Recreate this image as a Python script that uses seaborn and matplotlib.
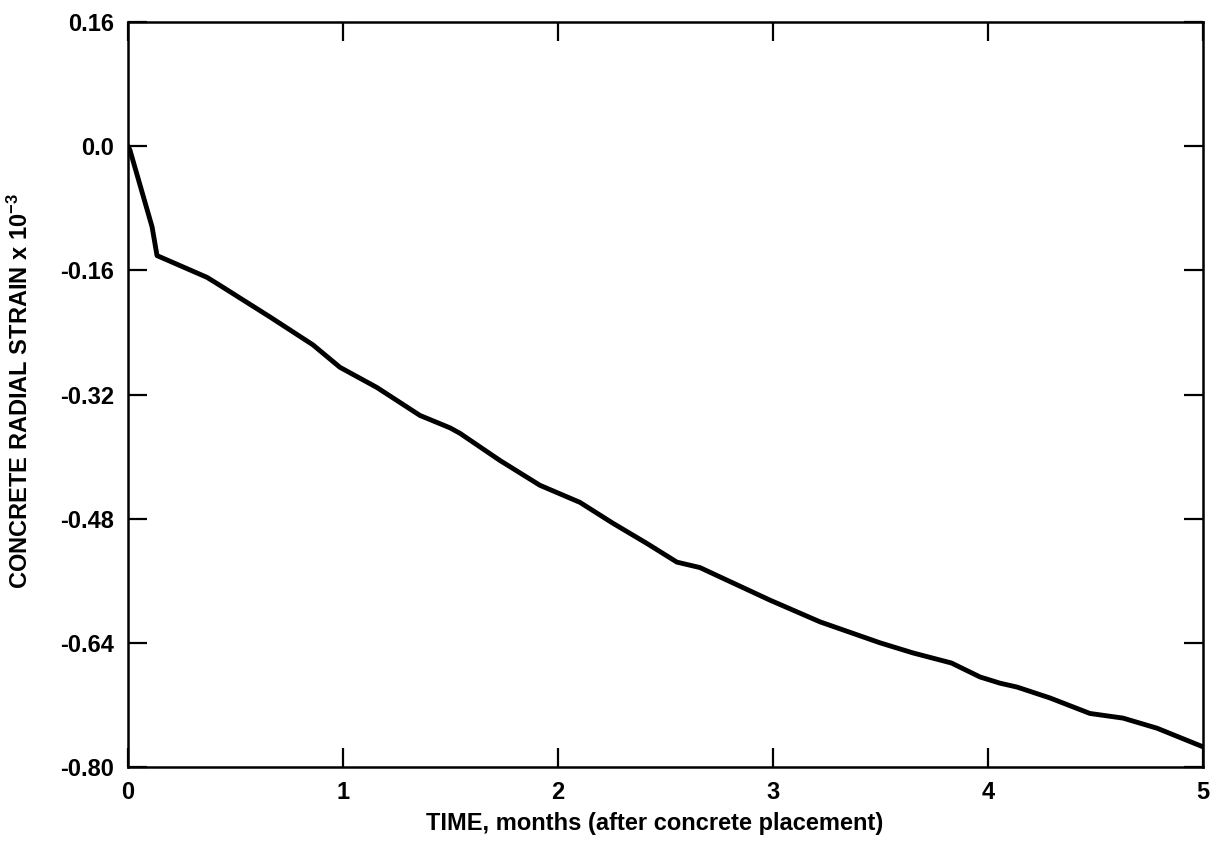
import numpy as np
import pandas as pd
import matplotlib
matplotlib.use('Agg')
import matplotlib.pyplot as plt
import seaborn as sns

# values
time_months = [0.0, 0.009, 0.112, 0.135, 0.367, 0.414, 0.660, 0.860, 0.986,
               1.158, 1.358, 1.498, 1.544, 1.730, 1.916, 2.102, 2.256, 2.414,
               2.553, 2.660, 2.753, 2.986, 3.219, 3.498, 3.651, 3.830, 3.963,
               4.056, 4.135, 4.288, 4.474, 4.628, 4.786, 5.0]
strain = [0.0, -0.005, -0.104, -0.141, -0.169, -0.177, -0.220, -0.256, -0.285,
          -0.311, -0.347, -0.363, -0.370, -0.405, -0.437, -0.459, -0.486, -0.512,
          -0.536, -0.543, -0.555, -0.585, -0.613, -0.640, -0.653, -0.666, -0.684,
          -0.692, -0.697, -0.711, -0.731, -0.737, -0.750, -0.774]

y_ticks = [0.16, 0.0, -0.16, -0.32, -0.48, -0.64, -0.80]
y_labels = ['0.16', '0.0', '-0.16', '-0.32', '-0.48', '-0.64', '-0.80']
x_ticks = [0, 1, 2, 3, 4, 5]

df = pd.DataFrame({'t': time_months, 'strain': strain})

sns.set_theme(style='white')
plt.rcParams['font.family'] = ['Liberation Sans', 'DejaVu Sans']
plt.rcParams['font.weight'] = 'bold'
plt.rcParams['axes.labelcolor'] = 'black'
plt.rcParams['text.color'] = 'black'
plt.rcParams['mathtext.fontset'] = 'custom'
plt.rcParams['mathtext.bf'] = 'Liberation Sans:bold'
plt.rcParams['mathtext.rm'] = 'Liberation Sans:bold'
plt.rcParams['mathtext.default'] = 'bf'

fig = plt.figure(figsize=(12.16, 8.44), dpi=100)
ax = fig.add_axes([128 / 1216, 77 / 844, 1075 / 1216, 745 / 844])

sns.lineplot(data=df, x='t', y='strain', ax=ax, color='black',
             linewidth=3.5, estimator=None, sort=False)

ax.set_xlim(0, 5)
ax.set_ylim(-0.80, 0.16)
ax.set_xticks(x_ticks)
ax.set_xticklabels([str(v) for v in x_ticks])
ax.set_yticks(y_ticks)
ax.set_yticklabels(y_labels)

ax.tick_params(axis='both', direction='in', length=14, width=1.6,
               colors='black', labelsize=17, pad=10,
               top=True, right=True, bottom=True, left=True)
for lab in ax.get_xticklabels() + ax.get_yticklabels():
    lab.set_fontweight('bold')

for sp in ax.spines.values():
    sp.set_color('black')
    sp.set_linewidth(1.8)

ax.set_xlabel('TIME, months (after concrete placement)', fontsize=17,
              fontweight='bold', color='black')
ax.xaxis.set_label_coords(0.490, -0.061)
ax.set_ylabel(r'CONCRETE RADIAL STRAIN x 10$^{-3}$', fontsize=17,
              fontweight='bold', color='black')
ax.yaxis.set_label_coords(-0.088, 0.505)

fig.savefig('out.png', dpi=100)
